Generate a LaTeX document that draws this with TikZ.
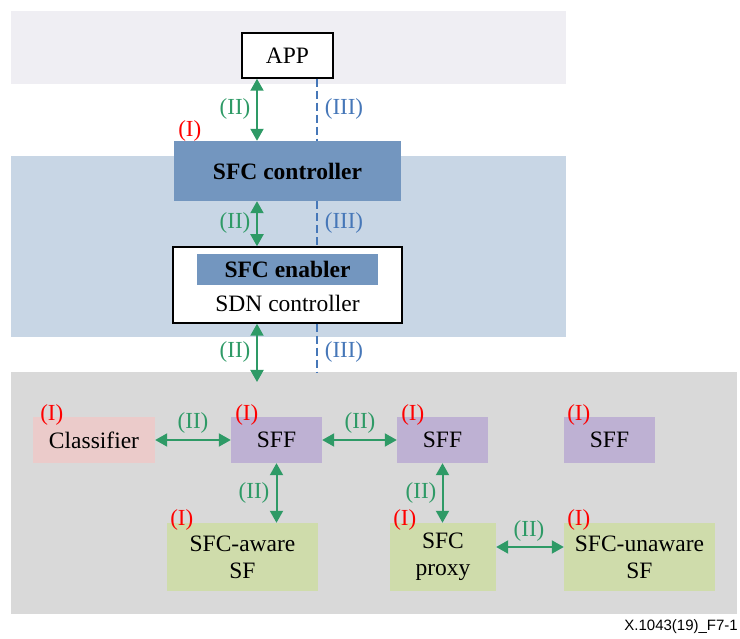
\documentclass[tikz,border=0pt]{standalone}
\usepackage{fontspec}
\setmainfont{Liberation Serif}
\newfontfamily\figsans{Liberation Sans}
\usetikzlibrary{arrows.meta}

\definecolor{bandtop}{HTML}{EFEEF3}
\definecolor{bandmid}{HTML}{C8D6E5}
\definecolor{bandlow}{HTML}{D9D9D9}
\definecolor{ctrlblue}{HTML}{7396BF}
\definecolor{clspink}{HTML}{EBCBCA}
\definecolor{sfflilac}{HTML}{BEB1D3}
\definecolor{sfgreen}{HTML}{CFDCAB}
\definecolor{ifgreen}{HTML}{2E9A66}
\definecolor{ifblue}{HTML}{4677B8}

\tikzset{
  txt/.style={font=\fontsize{23.5}{27}\selectfont},
  box/.style={txt, rectangle, inner sep=0pt, align=center},
  biarrow/.style={ifgreen, line width=2pt, {Triangle[width=13pt,length=12pt]}-{Triangle[width=13pt,length=12pt]}},
  dashline/.style={ifblue, line width=1.4pt, dash pattern=on 8pt off 4pt},
  iflab/.style={font=\fontsize{23}{26}\selectfont, inner sep=0pt},
  lab2/.style={iflab, text=ifgreen},
  lab3/.style={iflab, text=ifblue},
  tag/.style={iflab, text=red}
}

\begin{document}
\begin{tikzpicture}[x=1pt,y=-1pt]
\useasboundingbox (0,0) rectangle (740,639);

% layer bands
\fill[bandtop] (11,11) rectangle (566,84);
\fill[bandmid] (11,156) rectangle (566,337);
\fill[bandlow] (11,372) rectangle (737,614);

% guide coordinates for the vertical interfaces
\coordinate (gx) at (257,0);
\coordinate (bx) at (317,0);
\coordinate (gtip) at (257,382);
\coordinate (dend) at (317,372);
\coordinate (hy) at (0,547);

% application and control layers
\node[box, draw=black, line width=1.5pt, fill=white, minimum width=91pt, minimum height=45pt] (app) at (287.5,55.5) {APP};
\node[box, fill=ctrlblue, minimum width=227pt, minimum height=60pt, font=\fontsize{23.5}{27}\selectfont\bfseries] (ctrl) at (287.5,171) {SFC controller};
\node[box, draw=black, line width=1.5pt, fill=white, minimum width=229pt, minimum height=76pt] (sdn) at (287.5,285) {};
\node[box, fill=ctrlblue, minimum width=181pt, minimum height=31pt, font=\fontsize{23.5}{27}\selectfont\bfseries] (enab) at (287.5,269.5) {SFC enabler};
\node[box] (sdnlab) at (287.5,303) {SDN controller};

% data plane
\node[box, fill=clspink, minimum width=122pt, minimum height=46pt] (cls) at (94,440) {Classifier};
\node[box, fill=sfflilac, minimum width=91pt, minimum height=46pt] (sff1) at (276.5,440) {SFF};
\node[box, fill=sfflilac, minimum width=91pt, minimum height=46pt] (sff2) at (442.5,440) {SFF};
\node[box, fill=sfflilac, minimum width=91pt, minimum height=46pt] (sff3) at (609.5,440) {SFF};
\node[box, fill=sfgreen, minimum width=151pt, minimum height=68pt] (aware) at (242.5,557) {SFC-aware\\SF};
\node[box, fill=sfgreen, minimum width=106pt, minimum height=68pt] (proxy) at (443,557) {SFC\\proxy};
\node[box, fill=sfgreen, minimum width=151pt, minimum height=68pt] (unaware) at (639.5,557) {SFC-unaware\\SF};

% interface (II)
\draw[biarrow] (app.south -| gx) -- (ctrl.north -| gx);
\draw[biarrow] (ctrl.south -| gx) -- (sdn.north -| gx);
\draw[biarrow] (sdn.south -| gx) -- (gtip);
\draw[biarrow] (cls) -- (sff1);
\draw[biarrow] (sff1) -- (sff2);
\draw[biarrow] (sff1.south) -- (sff1.south |- aware.north);
\draw[biarrow] (sff2.south) -- (sff2.south |- proxy.north);
\draw[biarrow] (proxy.east |- hy) -- (unaware.west |- hy);

% interface (III)
\draw[dashline] (app.south -| bx) -- (ctrl.north -| bx);
\draw[dashline] (ctrl.south -| bx) -- (sdn.north -| bx);
\draw[dashline] (sdn.south -| bx) -- (dend);

% interface labels
\node[lab2] (l2a) at (235,109) {(II)};
\node[lab2] (l2b) at (235,223) {(II)};
\node[lab2] (l2c) at (235,352) {(II)};
\node[lab3] (l3a) at (344,109) {(III)};
\node[lab3] (l3b) at (344,223) {(III)};
\node[lab3] (l3c) at (344,352) {(III)};
\node[lab2] (l2d) at (193,423) {(II)};
\node[lab2] (l2e) at (360,423) {(II)};
\node[lab2] (l2f) at (254,493) {(II)};
\node[lab2] (l2g) at (421,493) {(II)};
\node[lab2] (l2h) at (529,531) {(II)};

% interface (I) tags
\node[tag] (t0) at ([shift={(16,-10)}]ctrl.north west) {(I)};
\node[tag] (t1) at ([shift={(19,-2)}]cls.north west) {(I)};
\node[tag] (t2) at ([shift={(16,-2)}]sff1.north west) {(I)};
\node[tag] (t3) at ([shift={(16,-2)}]sff2.north west) {(I)};
\node[tag] (t4) at ([shift={(15,-2)}]sff3.north west) {(I)};
\node[tag] (t5) at ([shift={(15,-3)}]aware.north west) {(I)};
\node[tag] (t6) at ([shift={(15,-3)}]proxy.north west) {(I)};
\node[tag] (t7) at ([shift={(15,-3)}]unaware.north west) {(I)};

% figure reference
\node[anchor=east, inner sep=0pt, font=\figsans\fontsize{15}{18}\selectfont] (ref) at (738,627) {X.1043(19)\_F7-1};
\end{tikzpicture}
\end{document}
